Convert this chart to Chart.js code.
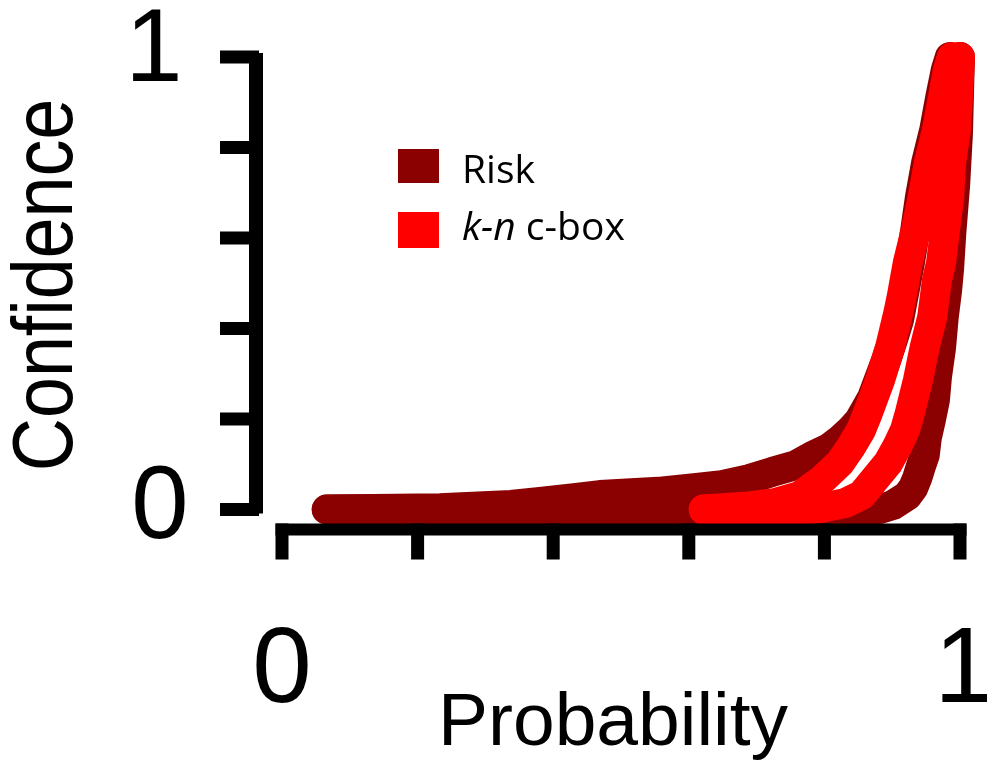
<!DOCTYPE html>
<html>
<head>
<meta charset="utf-8">
<script src="https://cdn.jsdelivr.net/npm/chart.js@4.4.1/dist/chart.umd.min.js"></script>
<style>
  html, body { margin: 0; padding: 0; background: #fff; }
  canvas { display: block; }
</style>
</head>
<body>
<canvas id="pbox-canvas" width="987" height="764"></canvas>
<script>
// series
const series_names = ['Risk', 'k-n c-box'];
const series_italic = ['', 'k-n'];   // leading part of the name set in italics
const series_colors = ['#8b0000', '#ff0000'];

// Risk p-box, left (upper) bound
const risk_left_p = [0.066, 0.233, 0.338, 0.381, 0.431, 0.469, 0.555, 0.615, 0.649, 0.689, 0.723, 0.758, 0.782, 0.807, 0.823, 0.839, 0.851, 0.861, 0.870, 0.879, 0.891, 0.901, 0.910, 0.917, 0.926, 0.934, 0.941, 0.950, 0.962, 0.971, 0.979, 0.985];
const risk_left_c = [0, 0.003, 0.010, 0.017, 0.025, 0.032, 0.039, 0.048, 0.054, 0.067, 0.083, 0.098, 0.118, 0.136, 0.154, 0.176, 0.196, 0.222, 0.246, 0.282, 0.330, 0.375, 0.419, 0.474, 0.545, 0.618, 0.691, 0.766, 0.839, 0.912, 0.971, 1];

// Risk p-box, right (lower) bound
const risk_right_p = [0.066, 0.867, 0.882, 0.901, 0.922, 0.931, 0.937, 0.942, 0.948, 0.951, 0.957, 0.963, 0.966, 0.972, 0.976, 0.981, 0.984, 0.987, 0.993, 0.997, 0.999, 1];
const risk_right_c = [0, 0, 0.001, 0.010, 0.030, 0.048, 0.070, 0.094, 0.120, 0.158, 0.198, 0.242, 0.293, 0.357, 0.425, 0.485, 0.534, 0.607, 0.721, 0.832, 0.947, 1];

// k-n c-box, left bound
const cbox_left_p = [0.622, 0.683, 0.727, 0.764, 0.796, 0.823, 0.839, 0.854, 0.864, 0.882, 0.897, 0.909, 0.914, 0.923, 0.935, 0.945, 0.954, 0.966, 0.975, 0.982, 0.988];
const cbox_left_c = [0, 0.006, 0.014, 0.030, 0.065, 0.103, 0.138, 0.176, 0.213, 0.286, 0.359, 0.434, 0.470, 0.545, 0.618, 0.691, 0.766, 0.839, 0.912, 0.971, 1];

// k-n c-box, right bound
const cbox_right_p = [0.622, 0.749, 0.794, 0.830, 0.855, 0.872, 0.894, 0.907, 0.919, 0.926, 0.938, 0.948, 0.959, 0.966, 0.972, 0.978, 0.984, 0.987, 0.994, 0.997, 1];
const cbox_right_c = [0, 0, 0.003, 0.014, 0.032, 0.063, 0.103, 0.138, 0.176, 0.213, 0.286, 0.359, 0.425, 0.507, 0.545, 0.618, 0.691, 0.766, 0.839, 0.912, 1];

// axes
const x_ticks = [0, 0.2, 0.4, 0.6, 0.8, 1];
const y_ticks = [0, 0.2, 0.4, 0.6, 0.8, 1];
const x_label_values = [0, 1];
const x_label_text = ['0', '1'];
const y_label_values = [0, 1];
const y_label_text = ['0', '1'];
const x_title = 'Probability';
const y_title = 'Confidence';

function zip(px, py){
  return px.map((p, i) => ({x: p, y: py[i]}));
}

function bound_dataset(px, py, series){
  return {
    label: series_names[series],
    data: zip(px, py),
    borderColor: series_colors[series],
    backgroundColor: series_colors[series],
    borderWidth: 30,
    borderCapStyle: 'round',
    borderJoinStyle: 'round',
    pointRadius: 0,
    tension: 0,
    fill: false,
    clip: false,
    order: series == 0 ? 1 : 0   // c-box painted over risk
  };
}

const AXIS_FONT = '"Liberation Sans", Arial, sans-serif';
const LEGEND_FONT = '"Open Sans", sans-serif';

function draw_axes(chart){
  const ctx = chart.ctx;
  const xs = chart.scales.x, ys = chart.scales.y;
  const x0 = xs.getPixelForValue(0), x1 = xs.getPixelForValue(1);
  const y0 = ys.getPixelForValue(0), y1 = ys.getPixelForValue(1);
  const ax = x0 - 26;   // detached y axis
  const ay = y0 + 20;   // detached x axis
  ctx.save();
  ctx.fillStyle = '#000';
  // y axis
  ctx.fillRect(ax - 7, y1 - 4, 14, y0 - y1 + 8);
  y_ticks.forEach(v => {
    const y = ys.getPixelForValue(v);
    ctx.fillRect(ax - 36, y - 6.5, 39, 13);
  });
  // x axis
  ctx.fillRect(x0 - 6.5, ay - 6, x1 - x0 + 13, 12);
  x_ticks.forEach(v => {
    const x = xs.getPixelForValue(v);
    ctx.fillRect(x - 6.5, ay - 6, 13, 36);
  });

  // tick labels
  ctx.textAlign = 'center';
  ctx.textBaseline = 'alphabetic';
  ctx.font = '103px ' + AXIS_FONT;
  y_label_values.forEach((v, i) => {
    const y = ys.getPixelForValue(v);
    const base = v == 1 ? y + 24 : y + 28.5;
    const cx = v == 1 ? ax - 102 : ax - 96;
    ctx.fillText(y_label_text[i], cx, base);
  });
  ctx.font = '107px ' + AXIS_FONT;
  x_label_values.forEach((v, i) => {
    const x = xs.getPixelForValue(v);
    ctx.fillText(x_label_text[i], x + (v == 1 ? 4 : 0), ay + 172);
  });

  // axis titles
  ctx.font = '75px ' + AXIS_FONT;
  ctx.fillText(x_title, 613, 745);
  ctx.save();
  ctx.translate(72, 285);
  ctx.rotate(-Math.PI / 2);
  ctx.scale(0.866, 1);
  ctx.font = '85px ' + AXIS_FONT;
  ctx.fillText(y_title, 0, 0);
  ctx.restore();

  // legend
  const bx = x0 + 116;
  const box_top = [149, 212], box_h = [34, 36], base = [183, 240];
  ctx.textAlign = 'left';
  series_names.forEach((name, i) => {
    ctx.fillStyle = series_colors[i];
    ctx.fillRect(bx, box_top[i], 41, box_h[i]);
    ctx.fillStyle = '#000';
    let tx = bx + 64;
    const it = series_italic[i];
    if(it){
      ctx.font = 'italic 39px ' + LEGEND_FONT;
      ctx.fillText(it, tx, base[i]);
      tx += ctx.measureText(it).width;
    }
    ctx.font = '39px ' + LEGEND_FONT;
    ctx.fillText(name.slice(it.length), tx, base[i]);
  });
  ctx.restore();
}

const ctx = document.getElementById('pbox-canvas');
const myChart = new Chart(ctx, {
  type: 'line',
  data: {
    datasets: [
      bound_dataset(risk_left_p, risk_left_c, 0),
      bound_dataset(risk_right_p, risk_right_c, 0),
      bound_dataset(cbox_left_p, cbox_left_c, 1),
      bound_dataset(cbox_right_p, cbox_right_c, 1)
    ]
  },
  plugins: [{
    id: 'pbox-axes',
    afterDatasetsDraw: draw_axes
  }],
  options: {
    animation: false,
    responsive: false,
    events: [],
    layout: {
      padding: {left: 282, right: 27, top: 57, bottom: 254.5}
    },
    plugins: {
      legend: {display: false},
      title: {display: false},
      tooltip: {enabled: false}
    },
    scales: {
      x: {type: 'linear', min: 0, max: 1, display: false},
      y: {type: 'linear', min: 0, max: 1, display: false}
    }
  }
});
</script>
</body>
</html>
